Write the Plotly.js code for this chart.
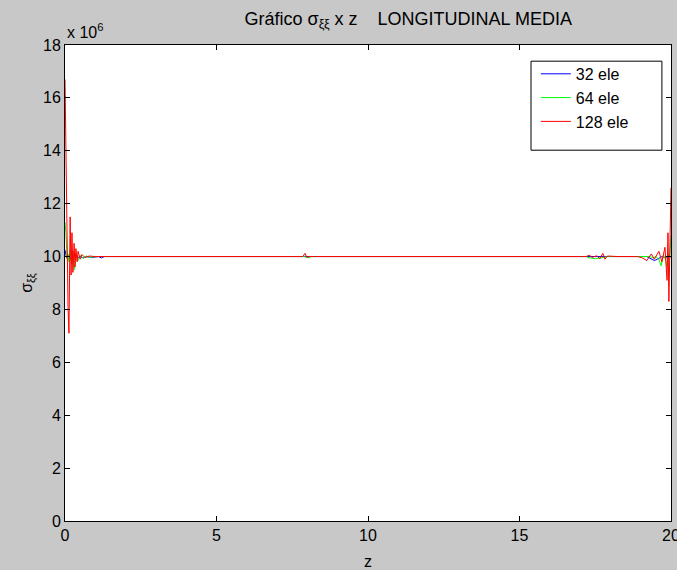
<!DOCTYPE html>
<html>
<head>
<meta charset="utf-8">
<script src="https://cdn.plot.ly/plotly-3.0.1.min.js"></script>
<style>html,body{margin:0;padding:0;background:#c8c8c8;}#chart{width:677px;height:570px;}</style>
</head>
<body>
<div id="chart"></div>
<script>
// values of sigma in units of 1e6 (axis shows "x 10^6")
const z32 = [0, 0.05, 0.1, 0.2, 0.3, 0.4, 0.5, 0.6, 0.7, 0.85, 1.0, 1.1, 1.2, 1.3, 19.2, 19.3, 19.45, 19.55, 19.7, 19.85, 20.0];
const s32 = [10.25, 9.95, 10.05, 9.9, 10.05, 9.95, 10.0, 9.95, 10.0, 9.97, 9.98, 10.0, 9.95, 10.0, 10.0, 9.95, 9.85, 9.9, 10.0, 9.95, 10.0];

const z64 = [0, 0.03, 0.07, 0.10, 0.13, 0.17, 0.23, 0.26, 0.30, 0.36, 0.43, 0.5, 0.6, 0.7, 0.85, 1.0, 7.9, 8.05, 8.12, 17.2, 17.3, 17.5, 17.7, 17.9, 19.3, 19.4, 19.5, 19.6, 19.67, 19.75, 19.82, 19.87, 19.92, 19.96, 20.0];
const s64 = [11.3, 10.9, 9.9, 10.1, 9.8, 10.25, 9.7, 10.2, 9.5, 10.1, 9.85, 10.05, 9.93, 10.02, 9.97, 10.0, 10.0, 9.95, 10.0, 10.0, 9.95, 9.92, 9.95, 10.0, 10.0, 9.95, 10.0, 9.9, 9.65, 10.05, 9.9, 9.6, 10.1, 10.0, 10.8];

const z128 = [0, 0.03, 0.07, 0.10, 0.13, 0.17, 0.20, 0.23, 0.26, 0.30, 0.33, 0.36, 0.40, 0.43, 0.50, 0.56, 0.66, 0.80, 1.0, 7.85, 7.92, 7.98, 8.05, 17.2, 17.3, 17.4, 17.55, 17.65, 17.75, 17.82, 17.9, 18.25, 18.9, 19.05, 19.2, 19.35, 19.45, 19.6, 19.7, 19.8, 19.87, 19.9, 19.93, 19.96, 19.98, 20.0];
const s128 = [16.7, 13.4, 9.6, 8.1, 7.1, 11.5, 9.3, 10.9, 9.4, 10.5, 9.6, 10.3, 9.8, 10.2, 9.9, 10.08, 9.96, 10.02, 10.0, 10.0, 10.12, 9.97, 10.0, 10.0, 10.05, 9.97, 10.03, 9.92, 10.12, 9.9, 10.02, 10.0, 10.0, 9.95, 9.85, 10.1, 9.9, 10.2, 9.8, 10.35, 9.1, 10.9, 8.3, 10.0, 11.0, 12.6];

const seriesNames = ['32 ele', '64 ele', '128 ele'];
const xTicks = [0, 5, 10, 15, 20];
const yTicks = [0, 2, 4, 6, 8, 10, 12, 14, 16, 18];

const font = {family: 'Liberation Sans, Arial, sans-serif', size: 16, color: '#000'};
const titleFont = {family: 'Liberation Sans, Arial, sans-serif', size: 18, color: '#000'};

const traces = [
  {x: z32, y: s32, name: seriesNames[0], mode: 'lines', line: {color: '#0000ff', width: 1}},
  {x: z64, y: s64, name: seriesNames[1], mode: 'lines', line: {color: '#00ff00', width: 1}},
  {x: z128, y: s128, name: seriesNames[2], mode: 'lines', line: {color: '#ff0000', width: 1}}
];

const layout = {
  width: 677, height: 570,
  margin: {l: 65, r: 6, t: 45, b: 49},
  paper_bgcolor: '#c8c8c8',
  plot_bgcolor: '#ffffff',
  font: font,
  showlegend: true,
  title: {
    text: 'Gráfico σ<sub>ξξ</sub> x z\u00a0\u00a0\u00a0\u00a0LONGITUDINAL MEDIA',
    font: titleFont, xref: 'container', x: 0.603, xanchor: 'center',
    yref: 'container', y: 0.968, yanchor: 'middle'
  },
  xaxis: {
    range: [0, 20], tickvals: xTicks, ticktext: xTicks.map(String),
    ticks: 'inside', ticklen: 5, tickcolor: '#000', showline: true, linecolor: '#000', linewidth: 1,
    mirror: 'ticks', showgrid: false, zeroline: false, ticklabeloverflow: 'allow',
    title: {text: 'z', font: font, standoff: 12}
  },
  yaxis: {
    range: [0, 18], tickvals: yTicks, ticktext: yTicks.map(String),
    ticks: 'inside', ticklen: 5, tickcolor: '#000', showline: true, linecolor: '#000', linewidth: 1,
    mirror: 'ticks', showgrid: false, zeroline: false,
    title: {text: 'σ<sub>ξξ</sub>', font: font, standoff: 6}
  },
  legend: {
    x: 0.777, y: 0.975, xanchor: 'left', yanchor: 'top',
    bgcolor: 'rgba(0,0,0,0)', borderwidth: 0,
    font: font, tracegroupgap: 0
  },
  shapes: [
    {type: 'rect', xref: 'paper', yref: 'paper', x0: 0.769, x1: 0.985, y0: 0.779, y1: 0.966,
     line: {color: '#000', width: 1}, fillcolor: '#ffffff', layer: 'above'}
  ],
  annotations: [
    {text: 'x 10<sup>6</sup>', xref: 'paper', yref: 'paper', x: 0, y: 1, xanchor: 'left', yanchor: 'bottom',
     showarrow: false, font: font, yshift: 2}
  ]
};

Plotly.newPlot('chart', traces, layout, {displayModeBar: false, staticPlot: true});
</script>
</body>
</html>
